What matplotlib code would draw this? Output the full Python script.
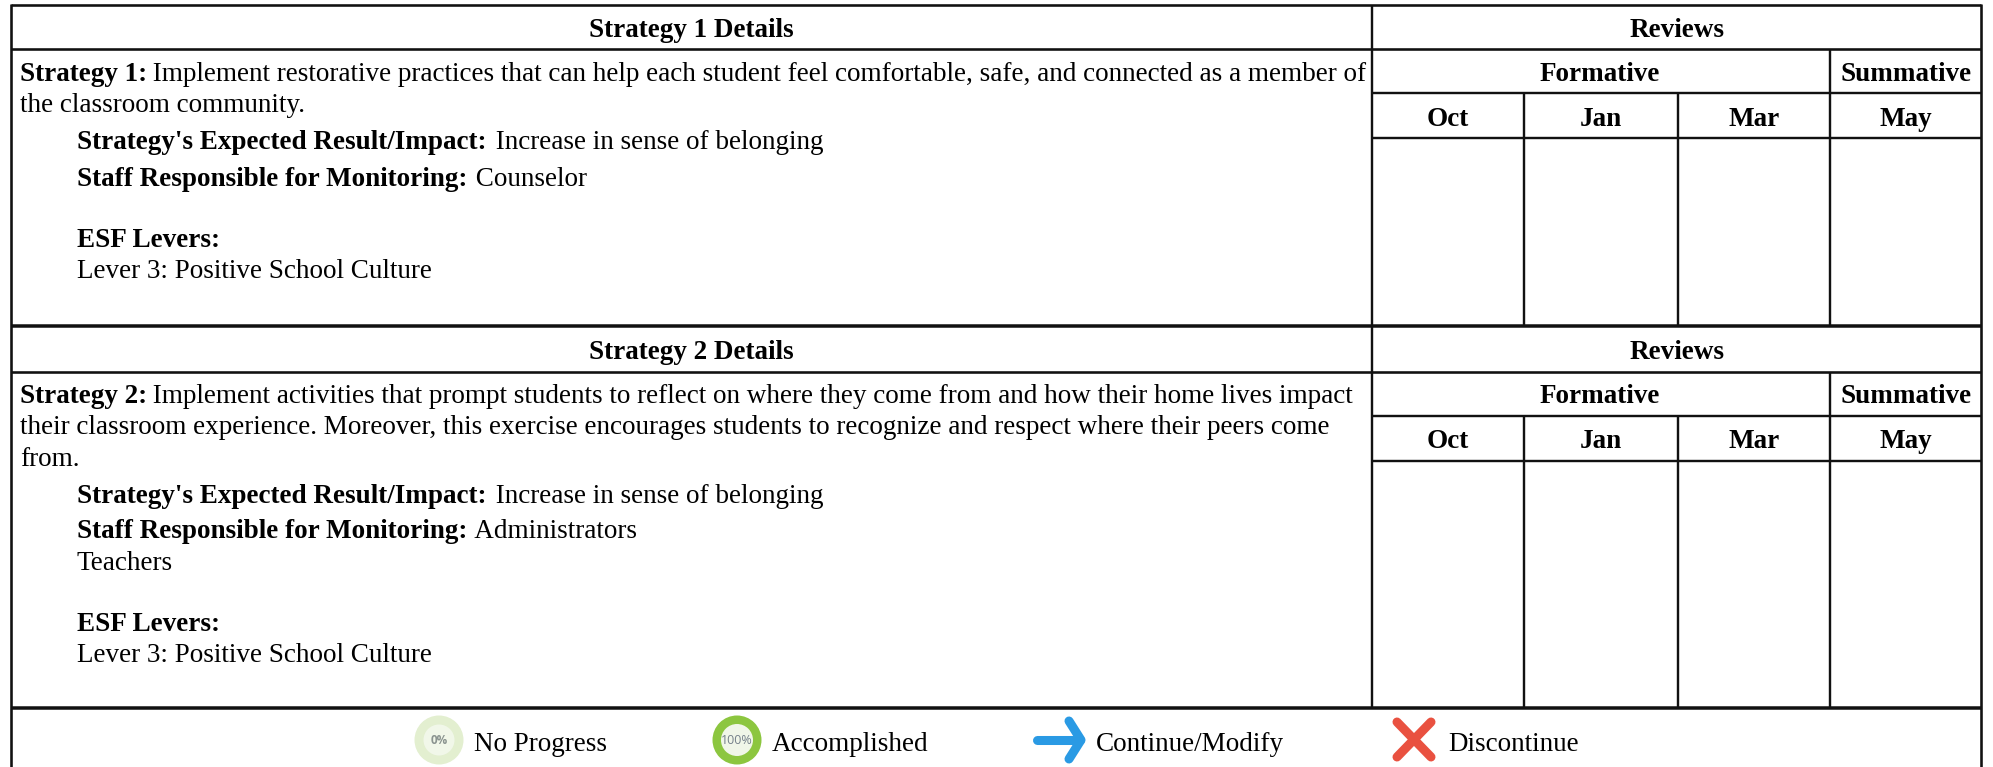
import matplotlib
matplotlib.use('Agg')
import matplotlib.pyplot as plt
from matplotlib.patches import Circle

plt.rcParams['font.family'] = ['Liberation Serif', 'DejaVu Serif']

FS = 19.5
INK = '#111111'
ROW_HEADS = ['Strategy 1 Details', 'Strategy 2 Details']
REVIEWS = 'Reviews'
FORMATIVE = 'Formative'
SUMMATIVE = 'Summative'
MONTHS = ['Oct', 'Jan', 'Mar', 'May']
LEGEND_LABELS = ['No Progress', 'Accomplished', 'Continue/Modify', 'Discontinue']

STRATEGY_1 = [
    ('Strategy 1:', ' Implement restorative practices that can help each student feel comfortable, safe, and connected as a member of', 20, 81),
    ('', 'the classroom community.', 20, 112),
    ("Strategy's Expected Result/Impact:", ' Increase in sense of belonging', 77, 149),
    ('Staff Responsible for Monitoring:', ' Counselor', 77, 186),
    ('ESF Levers:', '', 77, 247),
    ('', 'Lever 3: Positive School Culture', 77, 278),
]
STRATEGY_2 = [
    ('Strategy 2:', ' Implement activities that prompt students to reflect on where they come from and how their home lives impact', 20, 403),
    ('', 'their classroom experience. Moreover, this exercise encourages students to recognize and respect where their peers come', 20, 434),
    ('', 'from.', 20, 466),
    ("Strategy's Expected Result/Impact:", ' Increase in sense of belonging', 77, 503),
    ('Staff Responsible for Monitoring:', ' Administrators', 77, 538),
    ('', 'Teachers', 77, 570),
    ('ESF Levers:', '', 77, 631),
    ('', 'Lever 3: Positive School Culture', 77, 662),
]

fig = plt.figure(figsize=(19.93, 7.67), dpi=100, facecolor='white')
ax = fig.add_axes([0, 0, 1, 1])
ax.set_xlim(0, 1993)
ax.set_ylim(767, 0)
ax.axis('off')


def hline(y, x0, x1, lw=2.4):
    ax.plot([x0, x1], [y, y], color=INK, lw=lw * 0.72, solid_capstyle='butt')


def vline(x, y0, y1, lw=2.4):
    ax.plot([x, x], [y0, y1], color=INK, lw=lw * 0.72, solid_capstyle='butt')


def bold_center(x, y, s):
    ax.text(x, y, s, fontsize=FS, fontweight='bold', color='black', ha='center', va='baseline')


def mixed_line(bold, plain, x, y):
    # bold lead-in, then the regular run starts where the bold one ended
    r = fig.canvas.get_renderer()
    if bold:
        t = ax.text(x, y, bold, fontsize=FS, fontweight='bold', color='black', va='baseline')
        gap = -1 if bold.startswith('Strategy ') else 2.5 if bold.startswith("Strategy's") else 1.5
        x = t.get_window_extent(r).x1 + gap
    if plain:
        ax.text(x, y, plain, fontsize=FS, color='black', va='baseline')


# ── Table grid ──────────────────────────────────────────────────────
LEFT, RIGHT = 11, 1981
COL = [1372, 1524, 1678, 1830]
for top, r1, r2, r3, bottom in [(5, 49, 93, 138, 326), (326, 372, 416, 461, 708)]:
    hline(top, LEFT, RIGHT, lw=3.5 if top > 5 else 2.6)
    hline(r1, LEFT, RIGHT, lw=2.6)
    hline(r2, COL[0], RIGHT)
    hline(r3, COL[0], RIGHT)
    vline(COL[0], top, bottom)
    vline(COL[3], r1, bottom)
    vline(COL[1], r2, bottom)
    vline(COL[2], r2, bottom)
hline(708, LEFT, RIGHT, lw=3.5)
vline(LEFT, 4, 767, lw=2.6)
vline(RIGHT, 4, 767, lw=2.6)

# ── Headers ─────────────────────────────────────────────────────────
for i, base in enumerate([37, 359]):
    bold_center(691, base, ROW_HEADS[i])
    bold_center(1677, base, REVIEWS)
    bold_center(1600, base + 44, FORMATIVE)
    bold_center(1906, base + 44, SUMMATIVE)
    centers = [1448, 1601, 1754, 1906]
    for m, cx in zip(MONTHS, centers):
        bold_center(cx, base + 89, m)

# ── Strategy text ───────────────────────────────────────────────────
fig.canvas.draw()
for bold, plain, x, y in STRATEGY_1 + STRATEGY_2:
    mixed_line(bold, plain, x, y)

# ── Legend icons ────────────────────────────────────────────────────
ax.add_patch(Circle((439, 740), 24.5, fc='#e3efd0', ec='none'))
ax.add_patch(Circle((439, 740), 15.5, fc='#f1f7e9', ec='none'))
ax.text(439, 740, '0%', fontsize=8.5, fontweight='bold', family='Open Sans', color='#8b9490', ha='center', va='center')
ax.add_patch(Circle((737, 740), 24.5, fc='#8cc63f', ec='none'))
ax.add_patch(Circle((737, 740), 16, fc='#f0f6e8', ec='none'))
ax.text(737, 740, '100%', fontsize=9, family='Open Sans', color='#75808a', ha='center', va='center')

ax.plot([1037, 1080], [740, 740], color='#2a9ae4', lw=6.5, solid_capstyle='round')
ax.plot([1069, 1081, 1069], [721, 740, 759], color='#2a9ae4', lw=6.5,
        solid_capstyle='round', solid_joinstyle='round')
ax.plot([1397, 1431], [722, 757], color='#e95140', lw=6.5, solid_capstyle='round')
ax.plot([1431, 1397], [722, 757], color='#e95140', lw=6.5, solid_capstyle='round')

for label, x in zip(LEGEND_LABELS, [474, 772, 1096, 1448]):
    ax.text(x, 751, label, fontsize=FS, color='black', va='baseline')

fig.savefig('out.png', dpi=100)
plt.close()
